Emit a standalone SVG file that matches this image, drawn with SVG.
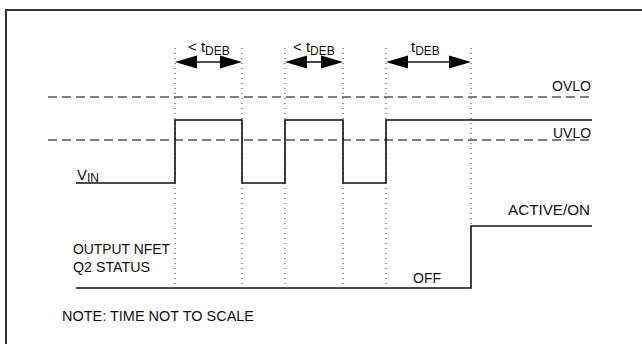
<svg xmlns="http://www.w3.org/2000/svg" width="642" height="344" viewBox="0 0 642 344">
<style>
text{font-family:"Liberation Sans",Arial,sans-serif;font-size:15px;fill:#111}
.sub{font-size:12px}
.sig{fill:none;stroke:#111;stroke-width:1.6}
.dash{fill:none;stroke:#555;stroke-width:1.6;stroke-dasharray:9,5}
.dot{fill:none;stroke:#333;stroke-width:1;stroke-dasharray:1,4}
.arr{stroke:#111;stroke-width:1.6}
.head{fill:#000}
</style>
<rect x="0" y="0" width="642" height="344" fill="#fff"/>
<rect x="6" y="10" width="700" height="400" fill="none" stroke="#333" stroke-width="2"/>
<g id="guides">
<line class="dot" x1="175" y1="48" x2="175" y2="288"/>
<line class="dot" x1="242" y1="48" x2="242" y2="288"/>
<line class="dot" x1="285" y1="48" x2="285" y2="288"/>
<line class="dot" x1="343" y1="48" x2="343" y2="288"/>
<line class="dot" x1="386" y1="48" x2="386" y2="288"/>
<line class="dot" x1="471" y1="48" x2="471" y2="226"/>
</g>
<g id="thresholds">
<line class="dash" x1="48" y1="97" x2="592" y2="97"/>
<line class="dash" x1="48" y1="140" x2="592" y2="140"/>
<text x="552" y="91" textLength="39" lengthAdjust="spacingAndGlyphs">OVLO</text>
<text x="553" y="138" textLength="38" lengthAdjust="spacingAndGlyphs">UVLO</text>
</g>
<g id="vin">
<polyline class="sig" points="76,183 175,183 175,120 242,120 242,183 285,183 285,120 343,120 343,183 386,183 386,120 592,120"/>
<text x="77" y="180">V<tspan class="sub" dy="2">IN</tspan></text>
</g>
<g id="output">
<polyline class="sig" points="76,288 471,288 471,226 592,226"/>
<text x="73" y="254" textLength="97" lengthAdjust="spacingAndGlyphs">OUTPUT NFET</text>
<text x="73" y="272" textLength="77" lengthAdjust="spacingAndGlyphs">Q2 STATUS</text>
<text x="413" y="283" textLength="28" lengthAdjust="spacingAndGlyphs">OFF</text>
<text x="508" y="215" textLength="82" lengthAdjust="spacingAndGlyphs">ACTIVE/ON</text>
</g>
<g id="connectors">
<line class="arr" x1="190" y1="62" x2="226" y2="62"/>
<polygon class="head" points="175,62 197,55.5 197,68.5"/>
<polygon class="head" points="242,62 220,55.5 220,68.5"/>
<line class="arr" x1="300" y1="62" x2="328" y2="62"/>
<polygon class="head" points="285,62 307,55.5 307,68.5"/>
<polygon class="head" points="343,62 321,55.5 321,68.5"/>
<line class="arr" x1="400" y1="62" x2="456" y2="62"/>
<polygon class="head" points="386,62 408,55.5 408,68.5"/>
<polygon class="head" points="471,62 449,55.5 449,68.5"/>
</g>
<g id="labels">
<text x="188" y="52">&lt; t<tspan class="sub" dy="3">DEB</tspan></text>
<text x="293" y="52">&lt; t<tspan class="sub" dy="3">DEB</tspan></text>
<text x="411" y="52">t<tspan class="sub" dy="3">DEB</tspan></text>
<text x="62" y="321" textLength="192" lengthAdjust="spacingAndGlyphs">NOTE: TIME NOT TO SCALE</text>
</g>
</svg>
